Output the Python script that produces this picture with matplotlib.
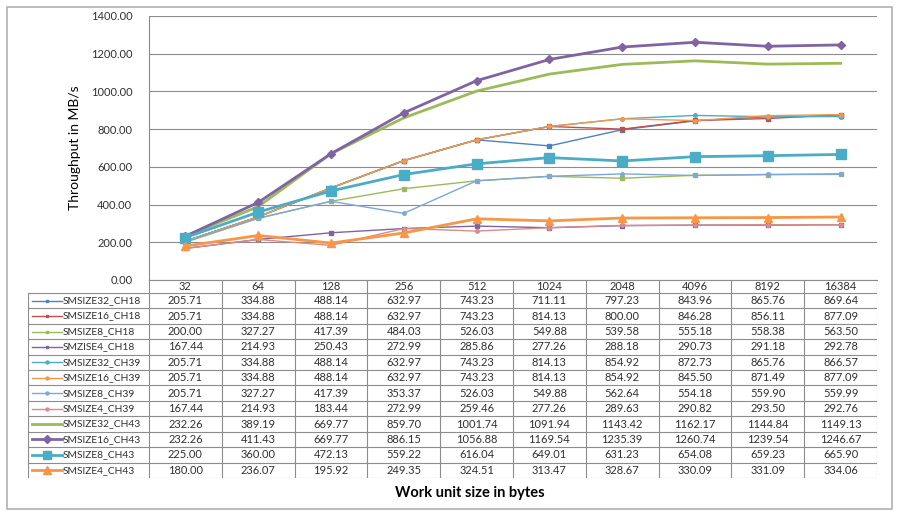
import matplotlib
matplotlib.use("Agg")
import matplotlib.pyplot as plt
from matplotlib.patches import Rectangle
from matplotlib.lines import Line2D

plt.rcParams['font.family'] = ['Lato', 'DejaVu Sans']

sizes = ["32", "64", "128", "256", "512", "1024", "2048", "4096", "8192", "16384"]

names = ["SMSIZE32_CH18", "SMSIZE16_CH18", "SMSIZE8_CH18", "SMZISE4_CH18",
         "SMSIZE32_CH39", "SMSIZE16_CH39", "SMSIZE8_CH39", "SMSIZE4_CH39",
         "SMSIZE32_CH43", "SMSIZE16_CH43", "SMSIZE8_CH43", "SMSIZE4_CH43"]

smsize32_ch18 = [205.71, 334.88, 488.14, 632.97, 743.23, 711.11, 797.23, 843.96, 865.76, 869.64]
smsize16_ch18 = [205.71, 334.88, 488.14, 632.97, 743.23, 814.13, 800.00, 846.28, 856.11, 877.09]
smsize8_ch18 = [200.00, 327.27, 417.39, 484.03, 526.03, 549.88, 539.58, 555.18, 558.38, 563.50]
smzise4_ch18 = [167.44, 214.93, 250.43, 272.99, 285.86, 277.26, 288.18, 290.73, 291.18, 292.78]
smsize32_ch39 = [205.71, 334.88, 488.14, 632.97, 743.23, 814.13, 854.92, 872.73, 865.76, 866.57]
smsize16_ch39 = [205.71, 334.88, 488.14, 632.97, 743.23, 814.13, 854.92, 845.50, 871.49, 877.09]
smsize8_ch39 = [205.71, 327.27, 417.39, 353.37, 526.03, 549.88, 562.64, 554.18, 559.90, 559.99]
smsize4_ch39 = [167.44, 214.93, 183.44, 272.99, 259.46, 277.26, 289.63, 290.82, 293.50, 292.76]
smsize32_ch43 = [232.26, 389.19, 669.77, 859.70, 1001.74, 1091.94, 1143.42, 1162.17, 1144.84, 1149.13]
smsize16_ch43 = [232.26, 411.43, 669.77, 886.15, 1056.88, 1169.54, 1235.39, 1260.74, 1239.54, 1246.67]
smsize8_ch43 = [225.00, 360.00, 472.13, 559.22, 616.04, 649.01, 631.23, 654.08, 659.23, 665.90]
smsize4_ch43 = [180.00, 236.07, 195.92, 249.35, 324.51, 313.47, 328.67, 330.09, 331.09, 334.06]

series = [smsize32_ch18, smsize16_ch18, smsize8_ch18, smzise4_ch18,
          smsize32_ch39, smsize16_ch39, smsize8_ch39, smsize4_ch39,
          smsize32_ch43, smsize16_ch43, smsize8_ch43, smsize4_ch43]

# (color, linewidth, marker, markersize)
styles = [
    ("#4F81BD", 1.0, "s", 2.5),
    ("#C0504D", 1.0, "s", 2.5),
    ("#9BBB59", 1.0, "s", 2.5),
    ("#8064A2", 1.0, "s", 2.5),
    ("#4BACC6", 1.0, "o", 2.5),
    ("#F79646", 1.0, "o", 2.5),
    ("#7FA6D8", 1.0, "o", 2.5),
    ("#D98C8A", 1.0, "o", 2.5),
    ("#9BBB59", 2.0, None, 0),
    ("#8064A2", 2.0, "D", 4.5),
    ("#4BACC6", 2.0, "s", 6.5),
    ("#F79646", 2.0, "^", 6),
]

W, H = 900, 515
GRID = "#8c8c8c"
TXT = "#303030"


def fx(px):
    return px / W


def fy(py):
    return 1 - py / H


fig = plt.figure(figsize=(9, 5.15), dpi=100)
fig.patches.append(Rectangle((fx(7), fy(509)), fx(885), 502 / H, transform=fig.transFigure,
                             fill=False, ec="#b0b0b0", lw=1.2))

L, R, T, B = 149, 877, 16, 280
ax = fig.add_axes([fx(L), fy(B), fx(R - L), (B - T) / H])
for d, (c, lw, mk, ms) in zip(series, styles):
    ax.plot(range(len(sizes)), d, color=c, lw=lw, marker=mk, ms=ms, mec=c, mfc=c)
ax.set_xlim(-0.5, len(sizes) - 0.5)
ax.set_ylim(0, 1400)
ax.set_yticks(range(0, 1401, 200))
ax.set_yticklabels([f"{v:.2f}" for v in range(0, 1401, 200)], fontsize=8, color=TXT)
ax.set_xticks([])
ax.tick_params(axis="y", length=0, pad=12)
ax.yaxis.grid(True, color=GRID, lw=0.8)
ax.set_axisbelow(True)
for s in ("top", "right"):
    ax.spines[s].set_visible(False)
for s in ("left", "bottom"):
    ax.spines[s].set_color(GRID)
    ax.spines[s].set_linewidth(0.8)
ax.set_ylabel("Throughput in MB/s", fontsize=10, color="black", labelpad=7)

# data table drawn in pixel coordinates below the plot
TL, TB = 28, 478
HB = 293
tab = fig.add_axes([fx(TL), fy(TB), fx(R - TL), (TB - B) / H])
tab.set_xlim(TL, R)
tab.set_ylim(TB, B)
tab.axis("off")
colw = (R - L) / len(sizes)
rowh = (TB - HB) / len(names)
lk = dict(color=GRID, lw=0.8)

for i, s in enumerate(sizes):
    tab.text(L + (i + 0.5) * colw, (B + HB) / 2, s, ha="center", va="center", fontsize=8, color=TXT)
for i in range(len(sizes) + 1):
    tab.plot([L + i * colw] * 2, [B, TB], **lk)
for j in range(len(names) + 1):
    tab.plot([TL, R], [HB + j * rowh] * 2, **lk)
tab.plot([TL, TL], [HB, TB], **lk)

for j, (nm, d, (c, lw, mk, ms)) in enumerate(zip(names, series, styles)):
    yc = HB + (j + 0.5) * rowh
    tab.add_line(Line2D([TL + 4, TL + 34], [yc, yc], color=c, lw=lw))
    if mk:
        tab.add_line(Line2D([TL + 19], [yc], color=c, marker=mk, ms=ms * 0.85, mfc=c, mec=c))
    tab.text(TL + 35, yc, nm, ha="left", va="center", fontsize=7.4, color=TXT)
    for i, v in enumerate(d):
        tab.text(L + (i + 0.5) * colw, yc, f"{v:.2f}", ha="center", va="center", fontsize=8, color=TXT)

fig.text(fx(470), fy(493), "Work unit size in bytes", ha="center", va="center",
         fontsize=10.5, fontweight="bold")

fig.savefig("out.png", dpi=100)
